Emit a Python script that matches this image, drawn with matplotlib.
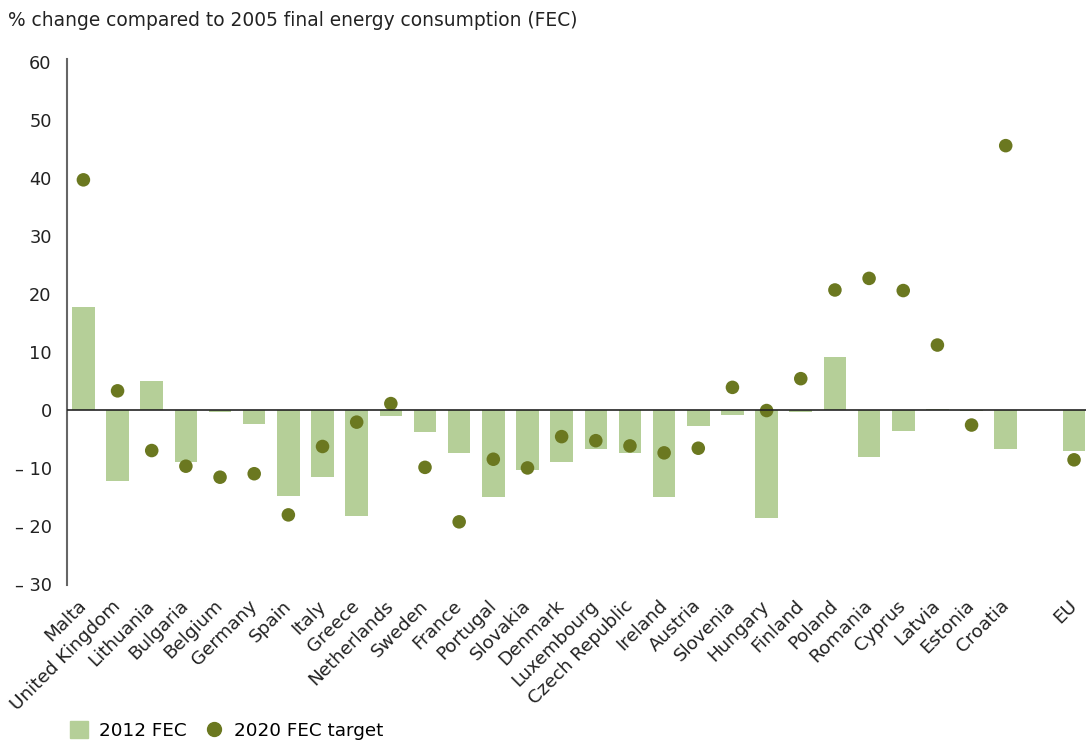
import numpy as np
import matplotlib.pyplot as plt
from matplotlib.lines import Line2D
from matplotlib.patches import Patch

countries = ['Malta', 'United Kingdom', 'Lithuania', 'Bulgaria', 'Belgium', 'Germany',
             'Spain', 'Italy', 'Greece', 'Netherlands', 'Sweden', 'France', 'Portugal',
             'Slovakia', 'Denmark', 'Luxembourg', 'Czech Republic', 'Ireland', 'Austria',
             'Slovenia', 'Hungary', 'Finland', 'Poland', 'Romania', 'Cyprus', 'Latvia',
             'Estonia', 'Croatia', '', 'EU']

# 2012 final energy consumption, % change vs 2005 (no value for the blank slot)
fec_2012 = [17.7, -12.2, 5.0, -8.9, -0.4, -2.4, -14.9, -11.5, -18.3, -1.1, -3.8, -7.4,
            -15.0, -10.4, -9.0, -6.7, -7.5, -15.1, -2.8, -0.9, -18.7, -0.3, 9.1, -8.1,
            -3.6, 0.2, -0.2, -6.8, np.nan, -7.1]

# 2020 FEC target, % change vs 2005
target_2020 = [39.7, 3.3, -7.0, -9.7, -11.6, -11.0, -18.1, -6.3, -2.1, 1.1, -9.9, -19.3,
               -8.5, -10.0, -4.6, -5.3, -6.2, -7.4, -6.6, 3.9, -0.1, 5.4, 20.7, 22.7,
               20.6, 11.2, -2.6, 45.6, np.nan, -8.6]

yticks = [60, 50, 40, 30, 20, 10, 0, -10, -20, -30]

bar_col = '#b5cf98'
dot_col = '#6b7820'
txt_col = '#222222'

plt.rcParams['font.family'] = 'DejaVu Sans'
fig = plt.figure(figsize=(10.86, 7.41), dpi=100)
ax = fig.add_axes([0.0617, 0.2105, 0.9383, 0.7095])

x = np.arange(len(countries))
ax.bar(x, fec_2012, width=0.66, color=bar_col, zorder=2)
ax.scatter(x, target_2020, s=95, color=dot_col, zorder=3, edgecolors='none')
ax.axhline(0, color=txt_col, lw=1.2, zorder=4)

ax.set_xlim(-0.48, 29.35)
ax.set_ylim(-30.2, 60.5)

ax.set_yticks(yticks)
ax.set_yticklabels([('– %d' % -v) if v < 0 else str(v) for v in yticks], fontsize=12.8,
                   color=txt_col)
ax.set_xticks(x)
ax.set_xticklabels(countries, rotation=45, ha='right', va='center', rotation_mode='anchor',
                   fontsize=13.2, color=txt_col)
ax.tick_params(axis='y', length=0, pad=11)
ax.tick_params(axis='x', length=0, pad=13)

for side in ['top', 'right', 'bottom']:
    ax.spines[side].set_visible(False)
ax.spines['left'].set_color('#666666')
ax.spines['left'].set_linewidth(1.5)

fig.text(0.007, 0.973, '% change compared to 2005 final energy consumption (FEC)',
         fontsize=13.4, color=txt_col, va='center')

handles = [Patch(color=bar_col, label='2012 FEC'),
           Line2D([], [], marker='o', ls='none', color=dot_col, markersize=10,
                  label='2020 FEC target')]
fig.legend(handles=handles, loc='center left', bbox_to_anchor=(0.049, 0.014), ncol=2,
           frameon=False, fontsize=13.2, handlelength=1.0, handleheight=1.0,
           columnspacing=1.0, handletextpad=0.6)

plt.savefig('out.png', dpi=100)
